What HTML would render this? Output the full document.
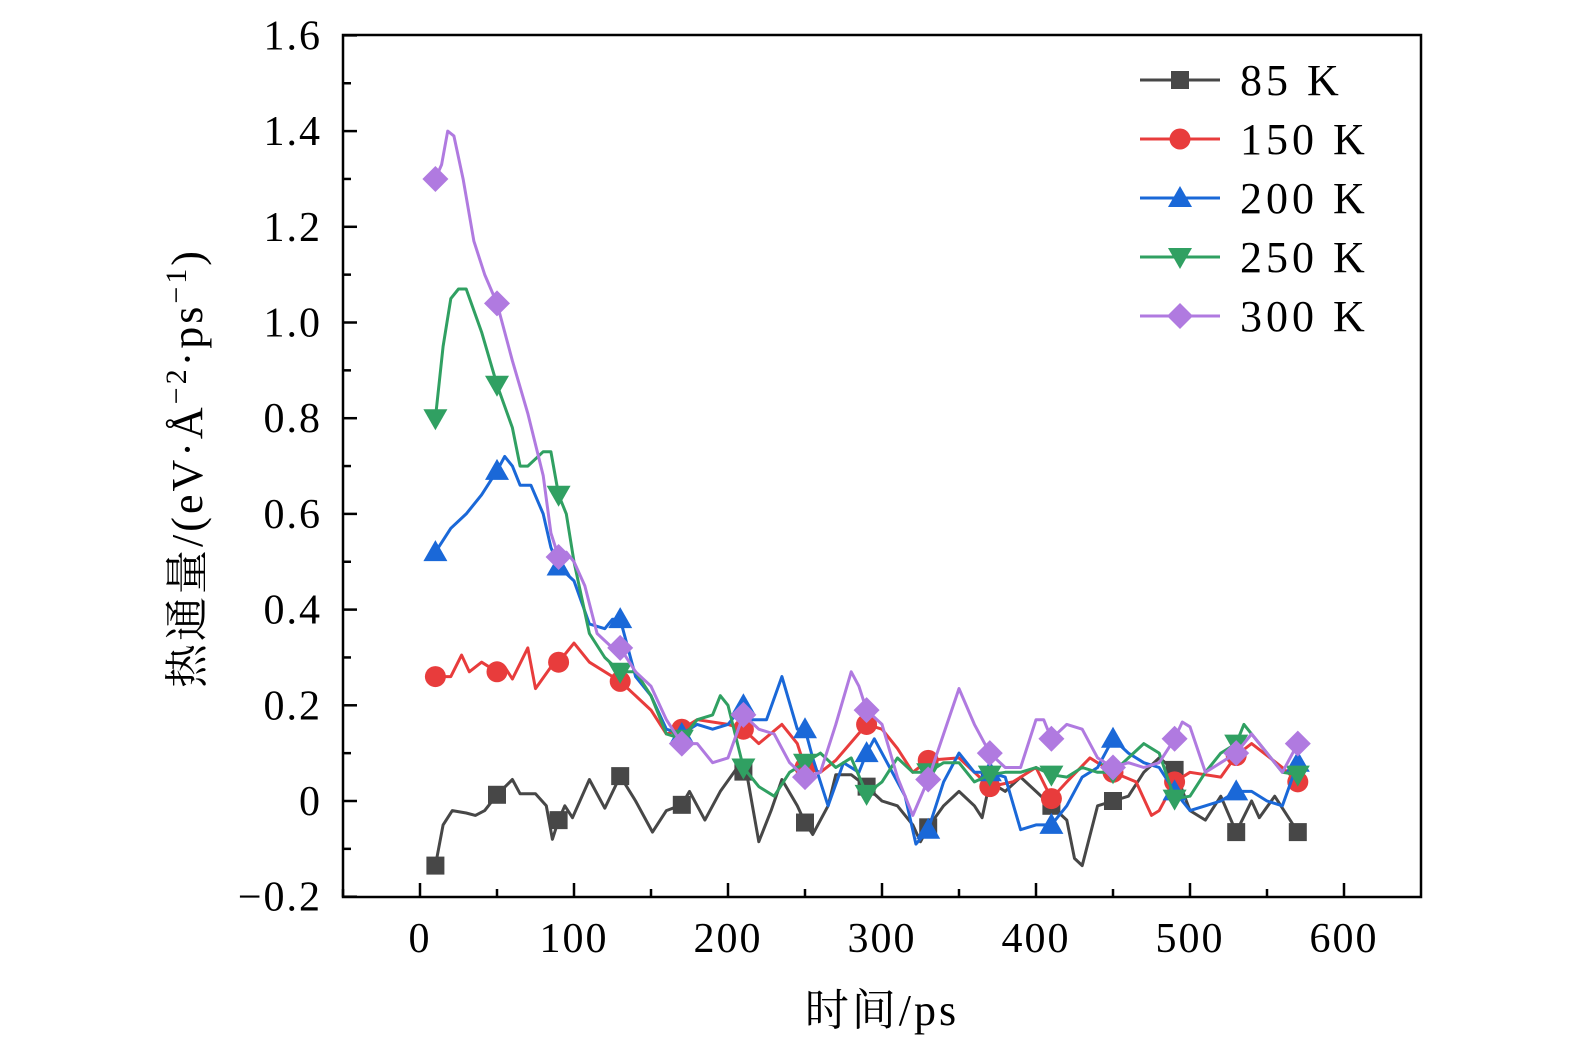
<!DOCTYPE html>
<html><head><meta charset="utf-8"><style>
body{margin:0;background:#fff;}
svg text{font-family:"Liberation Serif","Noto Serif CJK SC",serif;}
</style></head><body>
<svg id="chart" width="1575" height="1053" xmlns="http://www.w3.org/2000/svg">
<rect width="1575" height="1053" fill="#fff"/>
<g id="plot"></g>
<rect x="343" y="35" width="1078" height="862" fill="none" stroke="#000" stroke-width="2.5"/>
<g id="axes"></g>
<text x="882" y="1025" font-size="44" letter-spacing="3" text-anchor="middle">时间/ps</text>
<text transform="translate(202,468) rotate(-90)" font-size="44" letter-spacing="3" text-anchor="middle">热通量/(eV·Å<tspan dy="-16" font-size="30">−2</tspan><tspan dy="16">·ps</tspan><tspan dy="-16" font-size="30">−1</tspan><tspan dy="16">)</tspan></text>
<g id="legend"></g>
</svg>
<script>
const seriesNames=["85 K","150 K","200 K","250 K","300 K"];
const colors=["#474747","#e83c3c","#1a68d8","#30a062","#b07ae0"];
const shapes=["square","circle","up","down","diamond"];
const xTicks=[0,100,200,300,400,500,600];
const yTicks=[-0.2,0,0.2,0.4,0.6,0.8,1.0,1.2,1.4,1.6];
const yTickLabels=["−0.2","0","0.2","0.4","0.6","0.8","1.0","1.2","1.4","1.6"];
const markerT=[10,50,90,130,170,210,250,290,330,370,410,450,490,530,570];
const t85=[10,15,21,30,36,42,50,60,65,75,82,86,90,94,99,110,120,130,140,151,160,170,175,185,195,205,212,220,228,235,245,250,255,265,270,280,290,300,310,320,325,330,340,350,360,365,370,380,390,400,410,420,425,430,440,450,460,470,480,490,500,510,520,530,540,545,555,565,570];
const v85=[-0.135,-0.05,-0.02,-0.025,-0.03,-0.02,0.013,0.045,0.015,0.015,-0.01,-0.08,-0.04,-0.01,-0.035,0.045,-0.015,0.052,0.0,-0.065,-0.02,-0.008,0.02,-0.04,0.02,0.065,0.06,-0.085,-0.02,0.045,-0.01,-0.045,-0.07,-0.01,0.055,0.055,0.03,0.0,-0.01,-0.05,-0.085,-0.055,-0.01,0.02,-0.01,-0.035,0.04,0.02,0.05,0.02,-0.01,-0.04,-0.12,-0.135,-0.01,0.0,0.01,0.06,0.09,0.065,-0.02,-0.04,0.01,-0.065,0.0,-0.035,0.01,-0.04,-0.065];
const t150=[10,20,27,32,40,50,55,60,70,75,85,90,100,110,130,150,160,170,180,200,210,220,235,245,250,260,270,290,300,310,320,330,350,360,370,385,400,410,420,435,450,465,475,480,490,500,520,530,540,560,570];
const v150=[0.26,0.26,0.305,0.27,0.29,0.27,0.28,0.255,0.32,0.235,0.28,0.29,0.33,0.29,0.25,0.19,0.14,0.15,0.17,0.16,0.15,0.12,0.16,0.12,0.07,0.06,0.085,0.16,0.15,0.11,0.06,0.085,0.09,0.06,0.03,0.04,0.07,0.005,0.04,0.09,0.06,0.04,-0.03,-0.02,0.04,0.06,0.05,0.095,0.12,0.07,0.04];
const t200=[10,20,30,40,50,55,60,65,72,80,85,90,100,110,120,125,130,140,150,160,170,180,190,200,210,215,225,235,245,250,255,265,275,285,290,295,305,315,322,330,340,350,360,370,380,390,400,410,420,430,440,450,460,470,480,490,500,510,520,530,540,550,560,570];
const v200=[0.52,0.57,0.6,0.64,0.69,0.72,0.7,0.66,0.66,0.6,0.53,0.49,0.46,0.37,0.36,0.38,0.38,0.26,0.22,0.15,0.14,0.16,0.15,0.16,0.2,0.17,0.17,0.26,0.15,0.15,0.09,-0.01,0.08,0.06,0.1,0.13,0.07,0.01,-0.09,-0.06,0.04,0.1,0.06,0.06,0.05,-0.06,-0.05,-0.05,-0.01,0.05,0.07,0.13,0.1,0.08,0.07,0.02,-0.02,-0.01,0.0,0.02,0.02,0.0,-0.01,0.08];
const t250=[10,15,20,25,30,40,50,60,65,70,80,85,90,95,100,110,120,130,140,150,160,170,180,190,195,200,210,220,230,240,250,260,270,280,290,300,310,320,330,340,350,360,370,380,390,400,410,420,430,440,450,460,470,480,490,500,510,520,530,535,545,560,570];
const v250=[0.8,0.95,1.05,1.07,1.07,0.98,0.87,0.78,0.7,0.7,0.73,0.73,0.64,0.6,0.5,0.35,0.3,0.27,0.27,0.22,0.14,0.13,0.17,0.18,0.22,0.2,0.07,0.03,0.01,0.06,0.08,0.1,0.07,0.09,0.015,0.04,0.09,0.06,0.06,0.08,0.08,0.04,0.055,0.06,0.06,0.07,0.055,0.05,0.07,0.06,0.06,0.09,0.12,0.1,0.005,0.01,0.06,0.1,0.12,0.16,0.12,0.06,0.055];
const t300=[10,14,18,22,28,35,42,50,60,70,80,85,90,95,100,107,115,125,130,140,150,160,170,180,190,200,210,220,230,240,250,260,270,280,285,290,300,310,320,330,340,350,360,370,380,390,400,405,410,420,430,440,450,460,470,480,490,495,500,510,520,530,540,550,560,570];
const v300=[1.3,1.33,1.4,1.39,1.3,1.17,1.1,1.04,0.92,0.81,0.68,0.56,0.51,0.52,0.5,0.45,0.35,0.32,0.32,0.27,0.24,0.17,0.12,0.12,0.08,0.09,0.18,0.15,0.14,0.08,0.05,0.06,0.16,0.27,0.24,0.19,0.16,0.05,-0.03,0.045,0.14,0.235,0.16,0.1,0.07,0.07,0.17,0.17,0.13,0.16,0.15,0.09,0.07,0.08,0.07,0.08,0.13,0.165,0.155,0.06,0.08,0.1,0.14,0.1,0.06,0.12];
const allT=[t85,t150,t200,t250,t300];
const allV=[v85,v150,v200,v250,v300];

const NS="http://www.w3.org/2000/svg";
const xs=t=>420+t*1.54;
const ys=v=>801-v*478.5;
function mk(tag,attrs,parent){const e=document.createElementNS(NS,tag);for(const k in attrs)e.setAttribute(k,attrs[k]);parent.appendChild(e);return e;}
function interp(ts,vs,t){for(let i=0;i<ts.length-1;i++){if(t>=ts[i]&&t<=ts[i+1]){const f=(t-ts[i])/(ts[i+1]-ts[i]);return vs[i]+f*(vs[i+1]-vs[i]);}}return vs[vs.length-1];}
function marker(shape,cx,cy,color,parent){
  let e;
  if(shape==="square")e=mk("rect",{x:cx-9,y:cy-9,width:18,height:18,fill:color},parent);
  else if(shape==="circle")e=mk("circle",{cx:cx,cy:cy,r:10.5,fill:color},parent);
  else if(shape==="up")e=mk("polygon",{points:`${cx},${cy-12} ${cx+12},${cy+9} ${cx-12},${cy+9}`,fill:color},parent);
  else if(shape==="down")e=mk("polygon",{points:`${cx},${cy+12} ${cx+12},${cy-9} ${cx-12},${cy-9}`,fill:color},parent);
  else e=mk("polygon",{points:`${cx},${cy-13} ${cx+13},${cy} ${cx},${cy+13} ${cx-13},${cy}`,fill:color},parent);
  return e;
}
const plot=document.getElementById("plot");
for(let s=0;s<5;s++){
  const g=mk("g",{},plot);
  
  
  const d=allT[s].map((t,i)=>(i?"L":"M")+xs(t).toFixed(1)+","+ys(allV[s][i]).toFixed(1)).join(" ");
  const p=mk("path",{d:d,fill:"none",stroke:colors[s],"stroke-width":3,"stroke-linejoin":"round"},g);
  
  
  markerT.forEach(t=>{
    const m=marker(shapes[s],xs(t),ys(interp(allT[s],allV[s],t)),colors[s],g);
    
    
  });
}
const axes=document.getElementById("axes");
xTicks.forEach(t=>{
  const x=xs(t);
  const l=mk("line",{x1:x,x2:x,y1:897,y2:883,stroke:"#000","stroke-width":2.5},axes);
  
  
  if(t<600){const m=mk("line",{x1:xs(t+50),x2:xs(t+50),y1:897,y2:889,stroke:"#000","stroke-width":2.5},axes);
  
  }
  const tx=mk("text",{x:x,y:952,"font-size":42,"letter-spacing":2,"text-anchor":"middle"},axes);
  tx.textContent=t;
  
  
});
{const m=mk("line",{x1:xs(-50),x2:xs(-50),y1:897,y2:889,stroke:"#000","stroke-width":2.5},axes);

}
yTicks.forEach((v,i)=>{
  const y=ys(v);
  const l=mk("line",{x1:343,x2:357,y1:y,y2:y,stroke:"#000","stroke-width":2.5},axes);
  
  
  if(i<yTicks.length-1){const m=mk("line",{x1:343,x2:351,y1:ys(v+0.1),y2:ys(v+0.1),stroke:"#000","stroke-width":2.5},axes);
  
  }
  const tx=mk("text",{x:322,y:y+14,"font-size":42,"letter-spacing":2,"text-anchor":"end"},axes);
  tx.textContent=yTickLabels[i];
  
  
});
const leg=document.getElementById("legend");


for(let s=0;s<5;s++){
  const y=80+s*59;
  const g=mk("g",{},leg);
  
  
  mk("line",{x1:1140,x2:1220,y1:y,y2:y,stroke:colors[s],"stroke-width":3},g);
  marker(shapes[s],1180,y,colors[s],g);
  const tx=mk("text",{x:1240,y:y+15,"font-size":44,"letter-spacing":4},g);
  tx.textContent=seriesNames[s];
}
</script>
</body></html>
